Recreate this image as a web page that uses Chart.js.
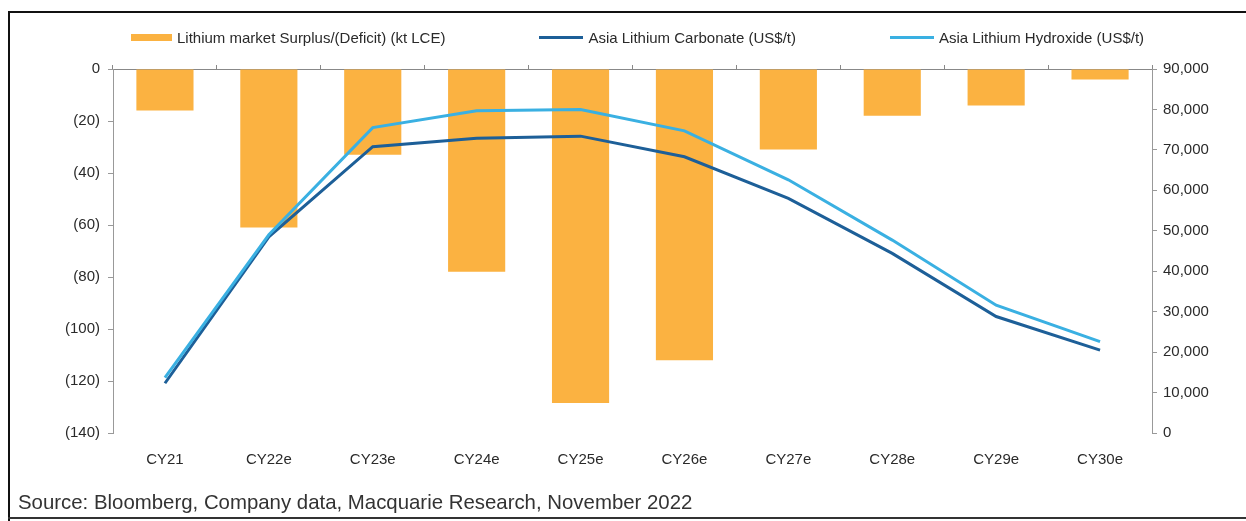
<!DOCTYPE html>
<html>
<head>
<meta charset="utf-8">
<script src="https://cdn.jsdelivr.net/npm/chart.js@4.4.0/dist/chart.umd.min.js"></script>
<style>
  body { margin: 0; background: #fff; font-family: 'Liberation Sans', Arial, sans-serif; }
  #wrap { position: relative; width: 1246px; height: 521px; overflow: hidden; }
  #frame { position: absolute; left: 8px; top: 11px; width: 1300px; height: 600px;
    border-left: 2px solid #111; border-top: 2px solid #111; }
  #bottomline { position: absolute; left: 8px; top: 517px; width: 1300px; height: 2px; background: #333; }
  #chart { position: absolute; left: 0; top: 0; }
  #legend { position: absolute; left: 131px; top: 29px; display: flex; align-items: center;
    font-size: 15px; color: #2a2a2a; white-space: nowrap; }
  #legend .item { display: flex; align-items: center; margin-right: 94px; }
  #legend .sw { margin-right: 5px; }
  #source { position: absolute; left: 18px; top: 491px; font-size: 20.4px; color: #333; white-space: nowrap; }
</style>
</head>
<body>
<div id="wrap">
  <div id="frame"></div>
  <div id="bottomline"></div>
  <canvas id="chart" width="1246" height="521"></canvas>
  <div id="legend"></div>
  <div id="source">Source: Bloomberg, Company data, Macquarie Research, November 2022</div>
</div>
<script>
'use strict'

var categories = ['CY21', 'CY22e', 'CY23e', 'CY24e', 'CY25e', 'CY26e', 'CY27e', 'CY28e', 'CY29e', 'CY30e']
// kt LCE, deficits shown as negatives
var surplusDeficit = [-16, -61, -33, -78, -128.5, -112, -31, -18, -14, -4]
// US$/t
var carbonatePrice = [12300, 48500, 70800, 72900, 73400, 68300, 58000, 44400, 28800, 20500]
var hydroxidePrice = [13700, 49000, 75500, 79700, 80000, 74700, 62600, 47700, 31600, 22600]

var leftTicks = { min: -140, max: 0, step: 20 }
var rightTicks = { min: 0, max: 90000, step: 10000 }

var seriesNames = [
  'Lithium market Surplus/(Deficit) (kt LCE)',
  'Asia Lithium Carbonate (US$/t)',
  'Asia Lithium Hydroxide (US$/t)'
]

var ORANGE = '#FBB241'
var DARK_BLUE = '#1D5F98'
var LIGHT_BLUE = '#3AB0E2'
var TEXT = '#2a2a2a'

Chart.defaults.font.family = "'Liberation Sans', Arial, sans-serif"
Chart.defaults.color = TEXT

var ctx = document.getElementById('chart').getContext('2d')

var chart = new Chart(ctx, {
  type: 'bar',
  data: {
    labels: categories,
    datasets: [
      {
        type: 'bar',
        label: seriesNames[0],
        data: surplusDeficit,
        backgroundColor: ORANGE,
        borderWidth: 0,
        barPercentage: 0.55,
        categoryPercentage: 1,
        yAxisID: 'y',
        order: 3
      },
      {
        type: 'line',
        label: seriesNames[1],
        data: carbonatePrice,
        borderColor: DARK_BLUE,
        backgroundColor: DARK_BLUE,
        borderWidth: 3,
        pointRadius: 0,
        tension: 0,
        yAxisID: 'y1',
        order: 2
      },
      {
        type: 'line',
        label: seriesNames[2],
        data: hydroxidePrice,
        borderColor: LIGHT_BLUE,
        backgroundColor: LIGHT_BLUE,
        borderWidth: 3,
        pointRadius: 0,
        tension: 0,
        yAxisID: 'y1',
        order: 1
      }
    ]
  },
  options: {
    responsive: false,
    animation: false,
    layout: { padding: { top: 65, bottom: 0, left: 0, right: 0 } },
    plugins: {
      legend: { display: false },
      tooltip: { enabled: false }
    },
    scales: {
      x: {
        position: 'bottom',
        offset: true,
        grid: { display: false },
        border: { display: false },
        ticks: { font: { size: 15 }, color: TEXT, padding: 10, maxRotation: 0 },
        afterFit: function (scale) { scale.height = 88 }
      },
      x2: {
        type: 'category',
        position: 'top',
        offset: true,
        grid: { offset: true, drawOnChartArea: false, tickLength: 4, color: '#888' },
        border: { color: '#888' },
        ticks: { display: false },
        afterFit: function (scale) { scale.height = 4 }
      },
      y: {
        position: 'left',
        min: leftTicks.min,
        max: leftTicks.max,
        grid: { drawOnChartArea: false, tickLength: 5, color: '#999' },
        border: { color: '#999' },
        ticks: {
          stepSize: leftTicks.step,
          font: { size: 15 },
          color: TEXT,
          padding: 8,
          callback: function (v) { return v === 0 ? '0' : '(' + Math.abs(v) + ')' }
        },
        afterFit: function (scale) { scale.width = 113 }
      },
      y1: {
        position: 'right',
        min: rightTicks.min,
        max: rightTicks.max,
        grid: { drawOnChartArea: false, tickLength: 5, color: '#999' },
        border: { color: '#999' },
        ticks: {
          stepSize: rightTicks.step,
          font: { size: 15 },
          color: TEXT,
          padding: 6,
          callback: function (v) { return v.toLocaleString('en-US') }
        },
        afterFit: function (scale) { scale.width = 94 }
      }
    }
  }
})

// html legend built from the datasets
var legend = document.getElementById('legend')
chart.data.datasets.forEach(function (ds) {
  var item = document.createElement('div')
  item.className = 'item'
  var sw = document.createElement('span')
  sw.className = 'sw'
  sw.style.display = 'inline-block'
  sw.style.background = ds.type === 'bar' ? ds.backgroundColor : ds.borderColor
  sw.style.width = ds.type === 'bar' ? '41px' : '44px'
  sw.style.height = ds.type === 'bar' ? '7px' : '3px'
  var txt = document.createElement('span')
  txt.textContent = ds.label
  item.appendChild(sw)
  item.appendChild(txt)
  legend.appendChild(item)
})
</script>
</body>
</html>
